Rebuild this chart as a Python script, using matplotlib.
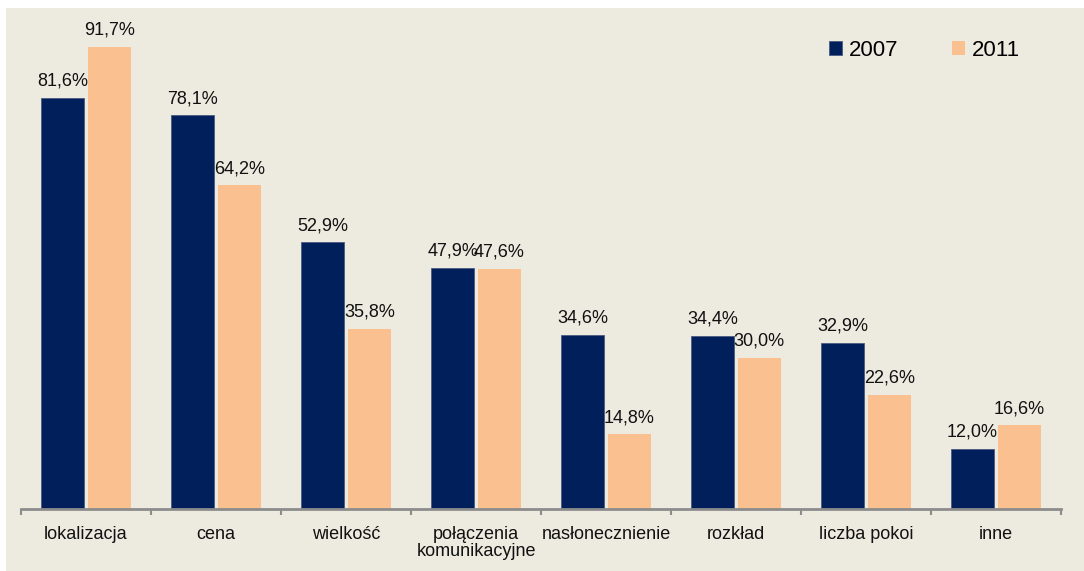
import numpy as np
import matplotlib.pyplot as plt
from matplotlib.patches import Rectangle

plt.rcParams['font.family'] = ['Liberation Sans', 'DejaVu Sans']

# Data
categories = ["lokalizacja", "cena", "wielkość", "połączenia\nkomunikacyjne",
              "nasłonecznienie", "rozkład", "liczba pokoi", "inne"]
years = ["2007", "2011"]
values_2007 = [81.6, 78.1, 52.9, 47.9, 34.6, 34.4, 32.9, 12.0]
values_2011 = [91.7, 64.2, 35.8, 47.6, 14.8, 30.0, 22.6, 16.6]

navy = "#001F5B"
peach = "#FAC090"
bg = "#EDEAE0"

fig = plt.figure(figsize=(10.84, 5.71), dpi=100, facecolor="white")
# beige panel behind everything
fig.patches.append(Rectangle((6 / 1084, 0), 1 - 6 / 1084, 1 - 8 / 571,
                             transform=fig.transFigure, facecolor=bg,
                             edgecolor="none", zorder=-10))

ax = fig.add_axes([21 / 1084, 1 - 509 / 571, 1040 / 1084, 499 / 571])
ax.set_facecolor("none")

x = np.arange(len(categories))
w = 0.33
off = 0.18
b1 = ax.bar(x - off, values_2007, w, color=navy, edgecolor="#4A5A80",
            linewidth=0.6, label=years[0])
b2 = ax.bar(x + off, values_2011, w, color=peach, edgecolor="none",
            label=years[1])

for bars, vals in ((b1, values_2007), (b2, values_2011)):
    for rect, v in zip(bars, vals):
        ax.annotate(f"{v:.1f}%".replace(".", ","),
                    (rect.get_x() + rect.get_width() / 2, v),
                    xytext=(0, 6), textcoords="offset points",
                    ha="center", va="bottom", fontsize=13, color="#111111")

ax.set_xlim(-0.5, len(categories) - 0.5)
ax.set_ylim(0, 499 / 5.04)

# boundary ticks on major, labels on minor (centered)
ax.set_xticks(np.arange(len(categories) + 1) - 0.5)
ax.set_xticklabels([])
ax.set_xticks(x, minor=True)
ax.set_xticklabels(categories, minor=True, fontsize=13, linespacing=1.0)
ax.tick_params(axis="x", which="major", length=4, width=1.5, color="#8C8C8C",
               direction="out")
ax.tick_params(axis="x", which="minor", length=0, pad=12, labelcolor="#111111")
ax.set_yticks([])

for s in ("top", "right", "left"):
    ax.spines[s].set_visible(False)
ax.spines["bottom"].set_color("#8C8C8C")
ax.spines["bottom"].set_linewidth(2)

leg = ax.legend(loc="upper right", bbox_to_anchor=(1008 / 1040, 1 - 21 / 499),
                ncol=2, frameon=False, fontsize=16, handlelength=0.6,
                handleheight=0.6, handletextpad=0.3, columnspacing=2.4,
                borderaxespad=0)

fig.savefig("out.png", dpi=100, facecolor=fig.get_facecolor())
